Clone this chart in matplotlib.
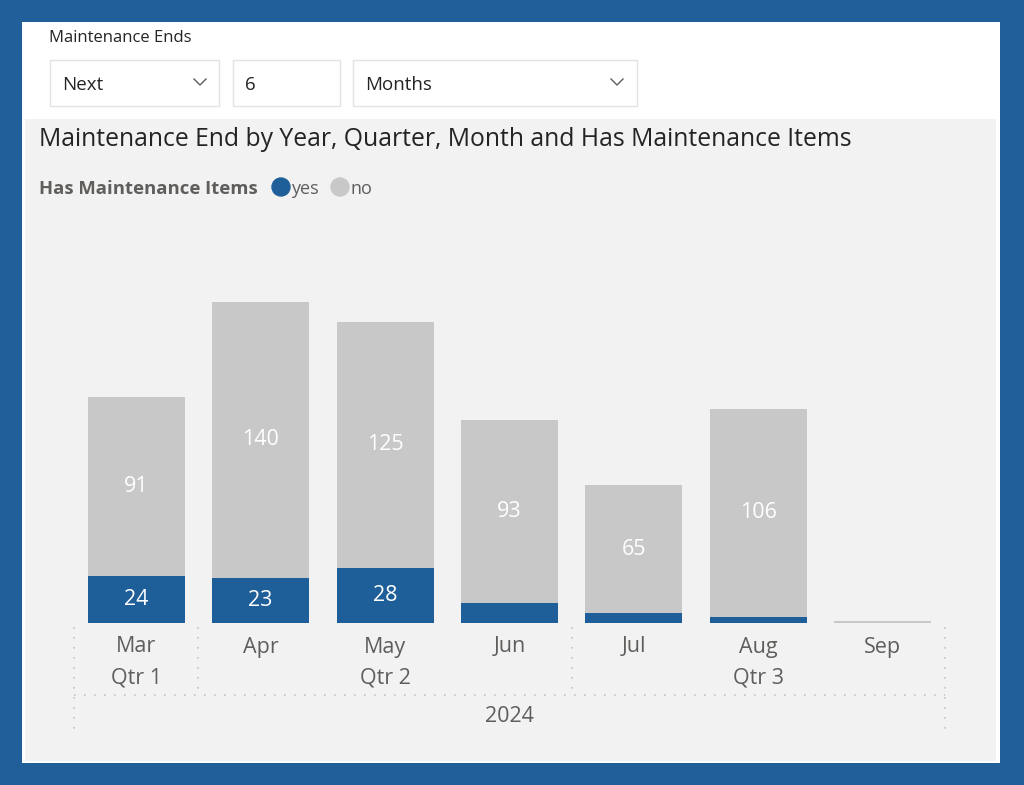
import matplotlib
matplotlib.use("Agg")
import matplotlib.pyplot as plt
from matplotlib.patches import Rectangle, Circle
from matplotlib.lines import Line2D
from matplotlib.transforms import blended_transform_factory

# Colors
frame_blue = "#205F9A"
bar_blue = "#1F5F99"
bar_gray = "#C8C8C8"
panel_gray = "#F2F2F2"
label_gray = "#605E5C"
title_color = "#252423"
box_edge = "#E3E3E3"

# Data
months = ["Mar", "Apr", "May", "Jun", "Jul", "Aug", "Sep"]
quarters = ["Qtr 1", "Qtr 2", "Qtr 3"]
quarter_of_month = [0, 1, 1, 1, 2, 2, 2]
year = "2024"
yes_counts = [24, 23, 28, 10, 5, 3, 0]
no_counts = [91, 140, 125, 93, 65, 106, 1]

W, H = 1024, 785
plt.rcParams["font.family"] = ["Open Sans", "DejaVu Sans"]
fig = plt.figure(figsize=(W / 100, H / 100), dpi=100, facecolor=frame_blue)
px = fig.dpi_scale_trans


def P(x, y):
    return (x / 100, (H - y) / 100)


def rect(x0, y0, x1, y1, z=-5, **kw):
    r = Rectangle(P(x0, y1), (x1 - x0) / 100, (y1 - y0) / 100,
                  transform=px, zorder=z, **kw)
    fig.add_artist(r)


# panels
rect(22, 22, 1000, 763, z=-10, facecolor="white", edgecolor="none")
rect(25, 119, 996, 761, z=-9, facecolor=panel_gray, edgecolor="none")

# slicer
fig.text(*P(49, 38), "Maintenance Ends", transform=px, fontsize=12,
         color=title_color, va="center", ha="left")
for x0, x1, txt in [(50, 219, "Next"), (233, 340, "6"), (353, 637, "Months")]:
    rect(x0, 60, x1, 106, facecolor="white", edgecolor=box_edge, lw=1)
    fig.text(*P(x0 + 12, 85), txt, transform=px, fontsize=13.5,
             color=title_color, va="center", ha="left")
for cx in [200, 617]:
    fig.add_artist(Line2D([cx / 100 - 0.06, cx / 100, cx / 100 + 0.06],
                          [(H - 79) / 100, (H - 85) / 100, (H - 79) / 100],
                          transform=px, color=label_gray, lw=1))

# title + legend
fig.text(*P(39, 140), "Maintenance End by Year, Quarter, Month and Has Maintenance Items",
         transform=px, fontsize=17.8, color=title_color, va="center", ha="left")
fig.text(*P(39, 189), "Has Maintenance Items", transform=px, fontsize=13.3,
         fontweight="bold", color=label_gray, va="center", ha="left")
fig.add_artist(Circle(P(281, 187), 0.09, transform=px, color=bar_blue))
fig.text(*P(291, 189), "yes", transform=px, fontsize=13, color=label_gray,
         va="center", ha="left")
fig.add_artist(Circle(P(340, 187), 0.09, transform=px, color=bar_gray))
fig.text(*P(351, 189), "no", transform=px, fontsize=13, color=label_gray,
         va="center", ha="left")

# bars
base = 622.7
top = 230
scale = 1.965
ax = fig.add_axes([74 / W, 1 - base / H, (945 - 74) / W, (base - top) / H])
ax.set_xlim(-0.5, len(months) - 0.5)
ax.set_ylim(0, (base - top) / scale)
ax.axis("off")
ax.patch.set_alpha(0)

x = list(range(len(months)))
b1 = ax.bar(x, yes_counts, 0.78, color=bar_blue)
b2 = ax.bar(x, no_counts, 0.78, bottom=yes_counts, color=bar_gray)
ax.bar_label(b1, labels=[str(v) if v >= 15 else "" for v in yes_counts],
             label_type="center", color="white", fontsize=15.5)
ax.bar_label(b2, labels=[str(v) if v >= 15 else "" for v in no_counts],
             label_type="center", color="white", fontsize=15.5)

# hierarchical axis
bt = blended_transform_factory(ax.transData, fig.transFigure)
fy = lambda y: 1 - y / H
for i, m in enumerate(months):
    ax.text(i, fy(647), m, transform=bt, ha="center", va="center",
            fontsize=15.5, color=label_gray)
for q, name in enumerate(quarters):
    idx = [i for i, qq in enumerate(quarter_of_month) if qq == q]
    ax.text(sum(idx) / len(idx), fy(678), name, transform=bt, ha="center",
            va="center", fontsize=15.5, color=label_gray)
ax.text((len(months) - 1) / 2, fy(717), year, transform=bt, ha="center",
        va="center", fontsize=15.5, color=label_gray)

dot = dict(color="#C4C4C4", lw=1.2, linestyle=(0, (1, 5)), transform=bt,
           clip_on=False)
lo, hi = -0.5, len(months) - 0.5
ax.add_line(Line2D([lo, lo], [fy(627), fy(735)], **dot))
ax.add_line(Line2D([hi, hi], [fy(627), fy(735)], **dot))
ax.add_line(Line2D([lo, hi], [fy(695), fy(695)], **dot))
for q in range(1, len(quarters)):
    sep = quarter_of_month.index(q) - 0.5
    ax.add_line(Line2D([sep, sep], [fy(627), fy(693)], **dot))

fig.savefig("out.png", dpi=100, facecolor=frame_blue)
